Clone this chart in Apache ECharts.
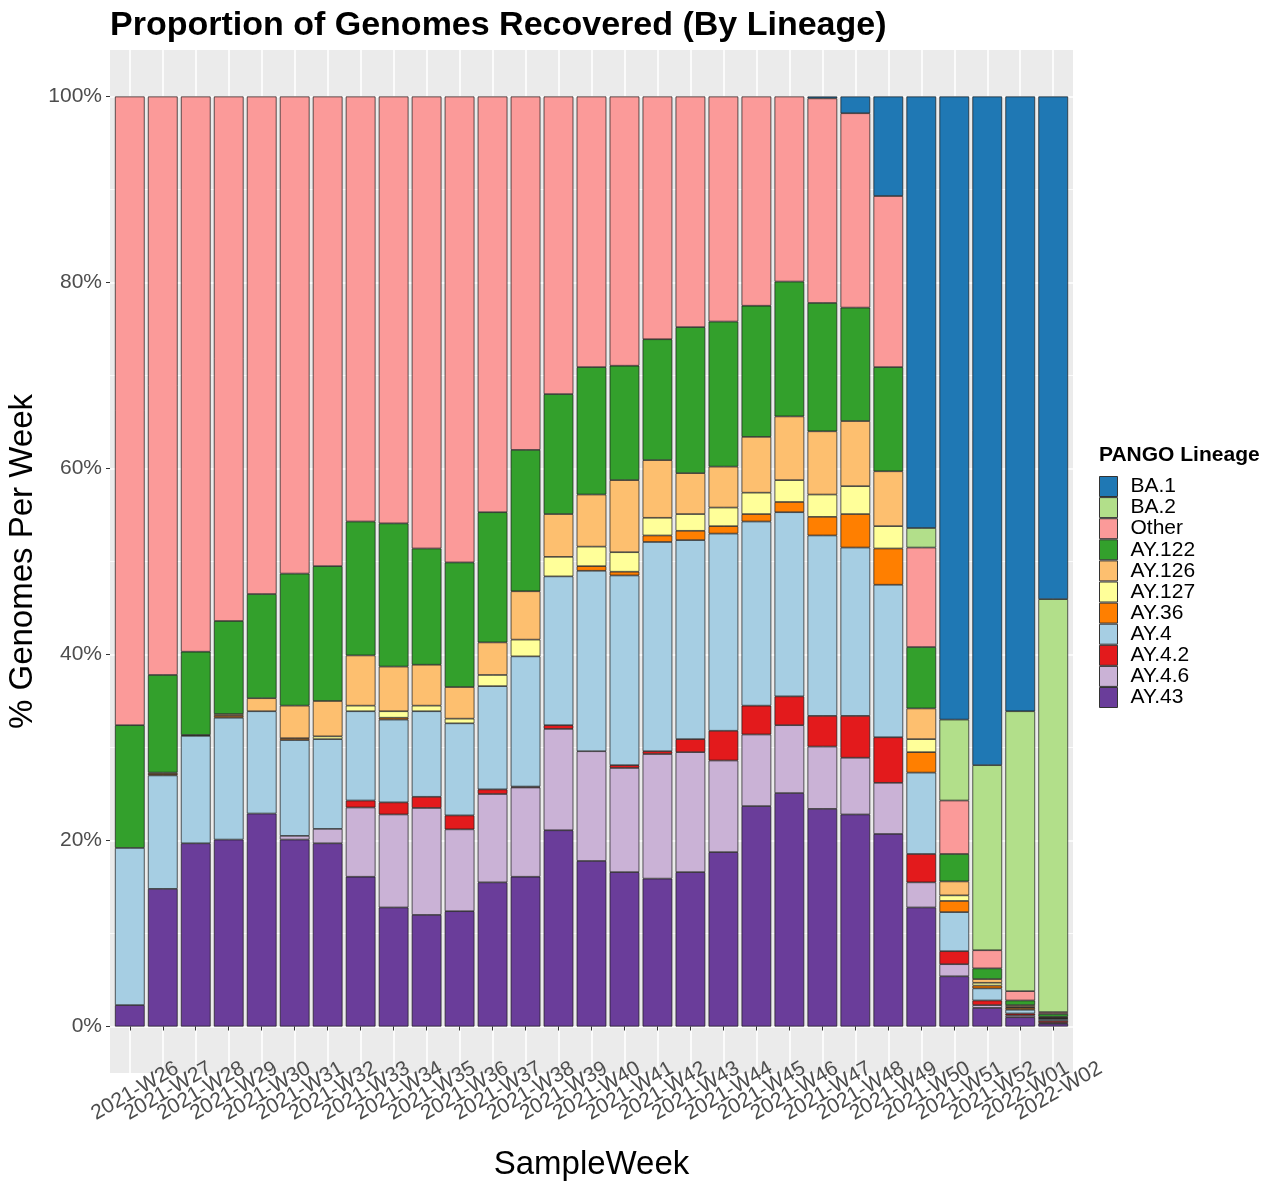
<!DOCTYPE html>
<html><head><meta charset="utf-8">
<script src="https://cdn.jsdelivr.net/npm/echarts@6/dist/echarts.min.js"></script>
<style>html,body{margin:0;padding:0;background:#fff}#c{width:1287px;height:1184px}</style>
</head><body><div id="c"></div>
<script>
const weeks = ['2021-W26','2021-W27','2021-W28','2021-W29','2021-W30','2021-W31','2021-W32','2021-W33','2021-W34','2021-W35','2021-W36','2021-W37','2021-W38','2021-W39','2021-W40','2021-W41','2021-W42','2021-W43','2021-W44','2021-W45','2021-W46','2021-W47','2021-W48','2021-W49','2021-W50','2021-W51','2021-W52','2022-W01','2022-W02'];
const yTicks = [0, 20, 40, 60, 80, 100];
// percentage of genomes per week, per lineage (stack order bottom -> top)
const AY43  = [2.3,14.8,19.7,20.1,22.9,20.1,19.7,16.1,12.8,12.0,12.4,15.5,16.1,21.1,17.8,16.6,15.9,16.6,18.75,23.7,25.1,23.4,22.8,20.7,12.8,5.4,2.0,1.0,0.3];
const AY46  = [0,0,0,0,0,0.4,1.55,7.45,10.0,11.5,8.8,9.5,9.6,10.9,11.8,11.2,13.4,12.9,9.85,7.7,7.3,6.7,6.1,5.5,2.7,1.3,0.3,0.2,0.1];
const AY42  = [0,0,0,0,0,0,0,0.75,1.3,1.2,1.5,0.5,0.1,0.4,0,0.3,0.3,1.4,3.2,3.1,3.1,3.3,4.5,4.9,3.05,1.4,0.5,0.2,0.2];
const AY4   = [16.9,12.2,11.55,13.1,11.0,10.3,9.65,9.6,8.9,9.2,9.9,11.1,14.0,16.0,19.4,20.4,22.5,21.4,21.2,19.8,19.8,19.4,18.1,16.4,8.75,4.2,1.3,0.4,0.2];
const AY36  = [0,0.15,0,0.2,0,0.2,0,0,0.2,0,0,0,0,0,0.5,0.4,0.7,1.0,0.8,0.8,1.1,2.0,3.6,3.9,2.2,1.2,0.3,0.2,0.1];
const AY127 = [0,0,0,0,0,0,0.3,0.6,0.7,0.6,0.5,1.2,1.8,2.1,2.1,2.1,1.9,1.8,2.0,2.3,2.35,2.4,3.0,2.4,1.4,0.6,0.3,0.1,0.05];
const AY126 = [0,0.15,0.1,0.2,1.4,3.5,3.8,5.4,4.8,4.4,3.4,3.5,5.2,4.6,5.6,7.75,6.2,4.4,4.4,6.0,6.85,6.8,7.0,5.9,3.3,1.5,0.4,0.2,0.1];
const AY122 = [13.2,10.5,8.95,10.0,11.2,14.2,14.5,14.4,15.4,12.5,13.4,14.0,15.2,12.9,13.7,12.3,13.0,15.7,15.6,14.1,14.5,13.8,12.2,11.2,6.6,2.95,1.15,0.5,0.3];
const Other = [67.6,62.2,59.7,56.4,53.5,51.3,50.5,45.7,45.9,48.6,50.1,44.7,38.0,32.0,29.1,28.95,26.1,24.8,24.2,22.5,19.9,22.0,20.9,18.4,10.7,5.75,1.95,1.0,0.2];
const BA2   = [0,0,0,0,0,0,0,0,0,0,0,0,0,0,0,0,0,0,0,0,0,0,0,0,2.1,8.7,19.9,30.1,44.4];
const BA1   = [0,0,0,0,0,0,0,0,0,0,0,0,0,0,0,0,0,0,0,0,0,0.2,1.8,10.7,46.4,67.0,71.9,66.1,54.05];

const lineageNames = ['AY.43','AY.4.6','AY.4.2','AY.4','AY.36','AY.127','AY.126','AY.122','Other','BA.2','BA.1'];
const lineageValues = [AY43,AY46,AY42,AY4,AY36,AY127,AY126,AY122,Other,BA2,BA1];
const legendOrder = ['BA.1','BA.2','Other','AY.122','AY.126','AY.127','AY.36','AY.4','AY.4.2','AY.4.6','AY.43'];
const palette = {'BA.1':'#1F78B4','BA.2':'#B2DF8A','Other':'#FB9A99','AY.122':'#33A02C','AY.126':'#FDBF6F','AY.127':'#FFFF99','AY.36':'#FF7F00','AY.4':'#A6CEE3','AY.4.2':'#E31A1C','AY.4.6':'#CAB2D6','AY.43':'#6A3D9A'};

const FONT = "'Liberation Sans', Arial, sans-serif";
const PL = 110, PT = 50, PW = 963, PH = 1023;
const unit = PW / (weeks.length - 1 + 1.2);
const innerL = PL + 0.1 * unit, innerW = unit * weeks.length;
const y0 = PT + PH * 105 / 110, y100 = PT + PH * 5 / 110;
const pxPerPct = (y0 - y100) / 100;

const chart = echarts.init(document.getElementById('c'), null, {renderer: 'canvas'});
const series = lineageNames.map((n, i) => ({
  name: n, type: 'bar', stack: 'total', xAxisIndex: 1, yAxisIndex: 1,
  barWidth: '90%',
  data: lineageValues[i].map(v => v > 0 ? v : '-'),
  itemStyle: {color: palette[n], borderColor: '#1a1a1a', borderWidth: 0.7},
  emphasis: {disabled: true}
}));

chart.setOption({
  animation: false,
  backgroundColor: '#ffffff',
  textStyle: {fontFamily: FONT},
  title: [
    {text: 'Proportion of Genomes Recovered (By Lineage)', left: PL, top: 9, padding: 0,
     textStyle: {fontSize: 34, fontWeight: 'bold', color: '#000', fontFamily: FONT}},
    {text: 'PANGO Lineage', left: 1099, top: 445, padding: 0,
     textStyle: {fontSize: 21, fontWeight: 'bold', color: '#000', fontFamily: FONT}}
  ],
  legend: {
    data: legendOrder, orient: 'vertical', left: 1099, top: 476, padding: 0,
    itemWidth: 18, itemHeight: 20, itemGap: 0.1, icon: 'rect', selectedMode: false,
    textStyle: {fontSize: 21, color: '#000', lineHeight: 19, fontFamily: FONT, padding: [0, 0, 0, 8]},
    itemStyle: {borderColor: '#333', borderWidth: 1}
  },
  grid: [
    {left: PL, top: PT, width: PW, height: PH, show: true, backgroundColor: '#EBEBEB', borderWidth: 0, containLabel: false, outerBoundsMode: 'none'},
    {left: innerL, top: PT, width: innerW, height: PH, containLabel: false, outerBoundsMode: 'none'},
    {left: PL, top: y100, width: PW, height: y0 - y100, containLabel: false, outerBoundsMode: 'none'},
    {left: PL, top: y100 + 10 * pxPerPct, width: PW, height: 80 * pxPerPct, containLabel: false, outerBoundsMode: 'none'}
  ],
  xAxis: [
    {type: 'value', gridIndex: 0, show: false, min: 0, max: 1},
    {type: 'category', gridIndex: 1, data: weeks, boundaryGap: true,
     axisLine: {show: false},
     axisTick: {show: true, alignWithLabel: true, length: 4, lineStyle: {color: '#333', width: 1}},
     axisLabel: {interval: 0, rotate: 30, align: 'center', verticalAlign: 'top', margin: 9,
                 fontSize: 21, color: '#4D4D4D', fontFamily: FONT},
     splitLine: {show: true, alignWithLabel: true, interval: 0, lineStyle: {color: '#FFFFFF', width: 1.6}}},
    {type: 'value', gridIndex: 2, show: false, min: 0, max: 1},
    {type: 'value', gridIndex: 3, show: false, min: 0, max: 1}
  ],
  yAxis: [
    {type: 'value', gridIndex: 0, show: false, min: 0, max: 1},
    {type: 'value', gridIndex: 1, show: false, min: -5, max: 105},
    {type: 'value', gridIndex: 2, min: yTicks[0], max: yTicks[yTicks.length - 1], interval: 20,
     axisLine: {show: false},
     axisTick: {show: true, length: 4, lineStyle: {color: '#333', width: 1}},
     axisLabel: {formatter: '{value}%', fontSize: 21, color: '#4D4D4D', margin: 8, fontFamily: FONT},
     splitLine: {show: true, lineStyle: {color: '#FFFFFF', width: 1.6}}},
    {type: 'value', gridIndex: 3, min: 10, max: 90, interval: 20,
     axisLine: {show: false}, axisTick: {show: false}, axisLabel: {show: false},
     splitLine: {show: true, lineStyle: {color: '#FFFFFF', width: 0.8}}}
  ],
  graphic: [
    {type: 'text', x: PL + PW / 2, y: 1165, silent: true,
     style: {text: 'SampleWeek', font: "33px 'Liberation Sans', Arial, sans-serif", fill: '#000', align: 'center', verticalAlign: 'middle'}},
    {type: 'text', x: 23, y: PT + PH / 2, rotation: Math.PI / 2, silent: true,
     style: {text: '% Genomes Per Week', font: "33px 'Liberation Sans', Arial, sans-serif", fill: '#000', align: 'center', verticalAlign: 'middle'}}
  ],
  series: series
});
</script>
</body></html>
